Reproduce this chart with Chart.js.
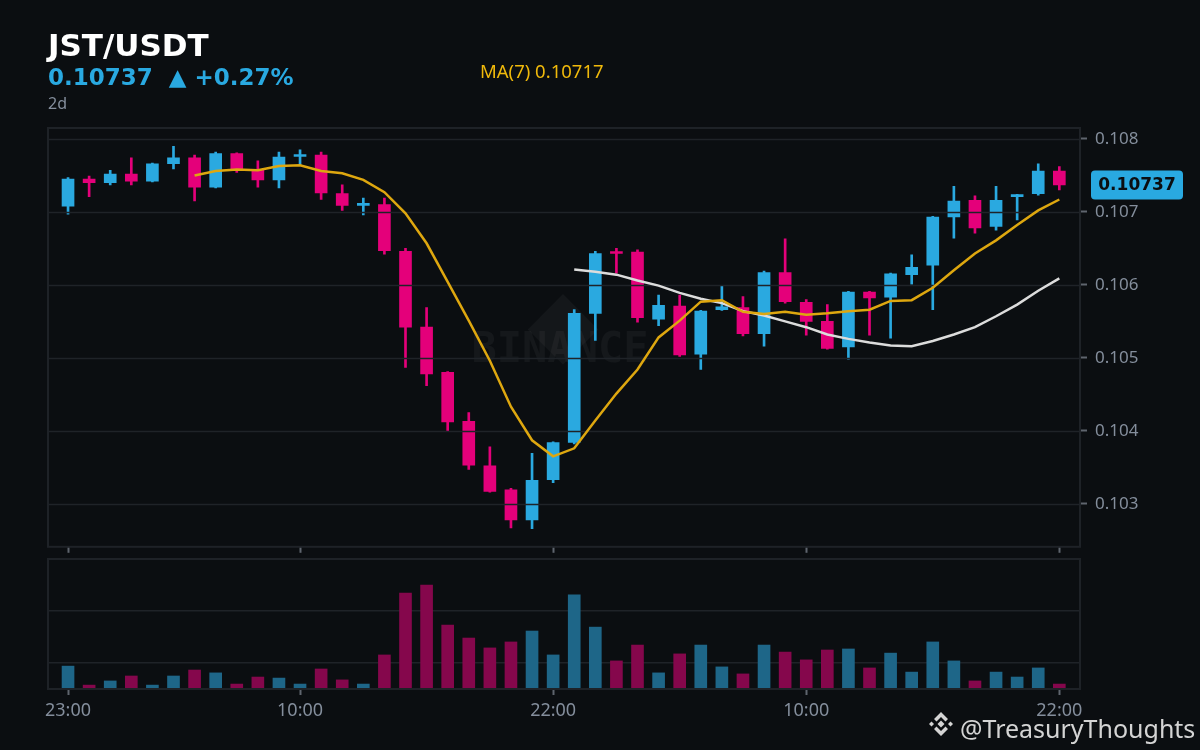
<!DOCTYPE html>
<html lang="en">
<head>
<meta charset="UTF-8">
<title>JST/USDT 2d</title>
<style>
  html, body { margin: 0; padding: 0; background: #0b0e11; }
  #wrap { position: relative; width: 1200px; height: 750px; overflow: hidden; background: #0b0e11; }
  canvas { position: absolute; left: 0; }
  #priceChart { top: 0; }
  #volChart { top: 550px; }
  .txt { position: absolute; white-space: nowrap; line-height: 1; }
  #pair { left: 48px; top: 27px; font: bold 31px "DejaVu Sans"; color: #ffffff; }
  #last { left: 48px; top: 64px; font: bold 23px "DejaVu Sans"; color: #29a9e1; }
  #ma { left: 480px; top: 58px; font: 18.5px "Noto Sans"; color: #f0b90b; }
  #tf { left: 48px; top: 92px; font: 16px "Noto Sans"; color: #848e9c; }
  #credit { left: 960px; top: 711px; font: 25px "Noto Sans"; color: #d4d4d4; }
  #logo { position: absolute; left: 927px; top: 710px; }
</style>
</head>
<body>
<div id="wrap">
  <canvas id="priceChart" width="1200" height="565"></canvas>
  <canvas id="volChart" width="1200" height="200"></canvas>
  <div class="txt" id="pair">JST/USDT</div>
  <div class="txt" id="last">0.10737&nbsp;&nbsp;▲ +0.27%</div>
  <div class="txt" id="ma">MA(7) 0.10717</div>
  <div class="txt" id="tf">2d</div>
  <svg id="logo" width="28" height="28" viewBox="0 0 28 28">
    <g fill="#d4d4d4">
      <polygon points="14,10.5 17.5,14 14,17.5 10.5,14"/>
      <polygon points="4.5,11.5 7,14 4.5,16.5 2,14"/>
      <polygon points="23.5,11.5 26,14 23.5,16.5 21,14"/>
      <polygon points="14,2 21,9 18.5,11.5 14,7 9.5,11.5 7,9"/>
      <polygon points="14,26 21,19 18.5,16.5 14,21 9.5,16.5 7,19"/>
    </g>
  </svg>
  <div class="txt" id="credit">@TreasuryThoughts</div>
</div>

<script src="https://cdn.jsdelivr.net/npm/chart.js"></script>
<script>
    // hourly candles, 23:00 -> 22:00 two days later
    const tickIdx = [0, 11, 23, 35, 47];
    const tickLabels = ['23:00', '10:00', '22:00', '10:00', '22:00'];
    const priceTicks = [0.103, 0.104, 0.105, 0.106, 0.107, 0.108];

    const opens = [
        0.10708, 0.10745, 0.10740, 0.10752, 0.10742, 0.10766, 0.10774, 0.10734, 0.10780, 0.10758,
        0.10744, 0.10776, 0.10778, 0.10725, 0.10709, 0.10710, 0.10646, 0.10542, 0.10480, 0.10413,
        0.10352, 0.10319, 0.10278, 0.10333, 0.10384, 0.10561, 0.10644, 0.10645, 0.10553, 0.10571,
        0.10505, 0.10566, 0.10569, 0.10533, 0.10617, 0.10576, 0.10550, 0.10515, 0.10590, 0.10583,
        0.10614, 0.10627, 0.10693, 0.10716, 0.10680, 0.10721, 0.10725, 0.10756
    ];
    const highs = [
        0.10747, 0.10749, 0.10757, 0.10774, 0.10767, 0.10790, 0.10778, 0.10782, 0.10781, 0.10770,
        0.10782, 0.10785, 0.10782, 0.10737, 0.10719, 0.10719, 0.10650, 0.10569, 0.10481, 0.10425,
        0.10378, 0.10321, 0.10369, 0.10385, 0.10566, 0.10646, 0.10650, 0.10648, 0.10586, 0.10586,
        0.10565, 0.10598, 0.10584, 0.10619, 0.10663, 0.10580, 0.10573, 0.10591, 0.10591, 0.10616,
        0.10641, 0.10694, 0.10735, 0.10722, 0.10735, 0.10724, 0.10766, 0.10762
    ];
    const lows = [
        0.10697, 0.10721, 0.10737, 0.10737, 0.10741, 0.10759, 0.10715, 0.10733, 0.10754, 0.10734,
        0.10733, 0.10764, 0.10717, 0.10702, 0.10696, 0.10642, 0.10487, 0.10462, 0.10399, 0.10347,
        0.10316, 0.10267, 0.10266, 0.10329, 0.10382, 0.10524, 0.10616, 0.10549, 0.10544, 0.10502,
        0.10484, 0.10565, 0.10530, 0.10516, 0.10575, 0.10531, 0.10512, 0.10498, 0.10531, 0.10527,
        0.10601, 0.10566, 0.10664, 0.10671, 0.10675, 0.10689, 0.10723, 0.10730
    ];
    const closes = [
        0.10745, 0.10740, 0.10752, 0.10742, 0.10766, 0.10774, 0.10734, 0.10780, 0.10758, 0.10744,
        0.10775, 0.10777, 0.10726, 0.10709, 0.10710, 0.10647, 0.10542, 0.10478, 0.10412, 0.10353,
        0.10317, 0.10278, 0.10332, 0.10384, 0.10561, 0.10643, 0.10643, 0.10555, 0.10572, 0.10504,
        0.10564, 0.10570, 0.10533, 0.10617, 0.10577, 0.10550, 0.10513, 0.10590, 0.10582, 0.10615,
        0.10624, 0.10693, 0.10715, 0.10678, 0.10716, 0.10722, 0.10756, 0.10737
    ];
    // volume in arbitrary units (gridlines at 1 and 3)
    const volumes = [
        0.88, 0.15, 0.31, 0.50, 0.15, 0.50, 0.73, 0.62, 0.19, 0.46,
        0.42, 0.19, 0.77, 0.35, 0.19, 1.31, 3.69, 4.00, 2.46, 1.96,
        1.58, 1.81, 2.23, 1.31, 3.62, 2.38, 1.08, 1.69, 0.62, 1.35,
        1.69, 0.85, 0.58, 1.69, 1.42, 1.12, 1.50, 1.54, 0.81, 1.38,
        0.65, 1.81, 1.08, 0.31, 0.65, 0.46, 0.81, 0.19
    ];
    const volGrid = [1, 3];

    const ma7Start = 6;
    const ma7 = [
        0.10750, 0.10756, 0.10758, 0.10757, 0.10763, 0.10764, 0.10756, 0.10753, 0.10744, 0.10727,
        0.10698, 0.10657, 0.10604, 0.10551, 0.10496, 0.10433, 0.10387, 0.10365, 0.10376, 0.10414,
        0.10451, 0.10484, 0.10528, 0.10551, 0.10577, 0.10579, 0.10563, 0.10560, 0.10563, 0.10559,
        0.10561, 0.10564, 0.10566, 0.10578, 0.10579, 0.10596, 0.10620, 0.10643, 0.10661, 0.10682,
        0.10702, 0.10717
    ];
    const ma25Start = 24;
    const ma25 = [
        0.10621, 0.10618, 0.10614, 0.10606, 0.10599, 0.10589, 0.10581, 0.10575, 0.10564, 0.10558,
        0.10550, 0.10542, 0.10532, 0.10526, 0.10521, 0.10517, 0.10516, 0.10523, 0.10532, 0.10542,
        0.10557, 0.10573, 0.10592, 0.10609
    ];

    const upCol = '#2aa9e0', downCol = '#e4007a';
    const upVol = '#1e6688', downVol = '#85074c';
    const gridCol = '#1f2328', borderCol = '#1e2227', tickMarkCol = '#5f656e', labelCol = '#848e9c';

    const isUp = closes.map((c, i) => c >= opens[i]);
    const xMin = -0.95, xMax = 47.98;

    Chart.defaults.font.family = '"Noto Sans", sans-serif';
    Chart.defaults.color = labelCol;

    function setXTicks(scale) {
        scale.ticks = tickIdx.map(v => ({ value: v }));
    }

    function drawPanelBorder(chart) {
        const { ctx, chartArea: a } = chart;
        ctx.save();
        ctx.strokeStyle = borderCol;
        ctx.lineWidth = 2;
        ctx.strokeRect(a.left, a.top, a.right - a.left, a.bottom - a.top);
        ctx.restore();
    }

    const pricePlugin = {
        id: 'pricePlugin',
        beforeDatasetsDraw(chart) {
            // faint watermark
            const { ctx, chartArea: a } = chart;
            const cx = (a.left + a.right) / 2, cy = (a.top + a.bottom) / 2;
            ctx.save();
            ctx.fillStyle = 'rgba(255,255,255,0.04)';
            ctx.translate(cx - 1, cy - 8);
            ctx.rotate(Math.PI / 4);
            ctx.fillRect(-25, -25, 50, 50);
            ctx.restore();
            ctx.save();
            ctx.fillStyle = 'rgba(255,255,255,0.045)';
            ctx.font = 'bold 42px "DejaVu Sans Mono"';
            ctx.textAlign = 'center';
            ctx.textBaseline = 'middle';
            ctx.fillText('BINANCE', cx - 4, cy + 14);
            ctx.restore();
        },
        beforeDatasetDraw(chart, args) {
            // grid above candles, below moving averages
            if (args.index !== 2) return;
            const { ctx, chartArea: a, scales: { y } } = chart;
            ctx.save();
            ctx.strokeStyle = gridCol;
            ctx.lineWidth = 1.5;
            y.ticks.forEach(t => {
                const py = Math.round(y.getPixelForValue(t.value)) + 0.5;
                ctx.beginPath();
                ctx.moveTo(a.left, py);
                ctx.lineTo(a.right, py);
                ctx.stroke();
            });
            ctx.restore();
        },
        afterDraw(chart) {
            drawPanelBorder(chart);
            const { ctx, chartArea: a, scales: { y } } = chart;
            const lastClose = closes[closes.length - 1];
            const py = y.getPixelForValue(lastClose);
            const bx = a.right + 11, bw = 92, bh = 29;
            ctx.save();
            ctx.fillStyle = '#29a9e1';
            ctx.beginPath();
            ctx.roundRect(bx, py - bh / 2, bw, bh, 4);
            ctx.fill();
            ctx.fillStyle = '#0b0e11';
            ctx.font = 'bold 17px "DejaVu Sans"';
            ctx.textAlign = 'center';
            ctx.textBaseline = 'middle';
            ctx.fillText(lastClose.toFixed(5), bx + bw / 2, py + 1);
            ctx.restore();
        }
    };

    const xTickGrid = { offset: false, drawOnChartArea: false, drawTicks: true, tickLength: 6, tickColor: tickMarkCol, tickWidth: 2 };

    const priceConfig = {
        type: 'bar',
        data: {
            datasets: [{
                label: 'wick',
                data: highs.map((h, i) => ({ x: i, y: [lows[i], h] })),
                backgroundColor: isUp.map(u => u ? upCol : downCol),
                barThickness: 2,
                grouped: false,
                order: 4
            }, {
                label: 'body',
                data: opens.map((o, i) => ({ x: i, y: [o, closes[i]] })),
                backgroundColor: isUp.map(u => u ? upCol : downCol),
                barThickness: 12,
                minBarLength: 2,
                grouped: false,
                order: 3
            }, {
                type: 'line',
                label: 'MA(25)',
                data: ma25.map((v, i) => ({ x: ma25Start + i, y: v })),
                borderColor: '#dcdcdc',
                borderWidth: 2.5,
                pointRadius: 0,
                tension: 0,
                order: 2
            }, {
                type: 'line',
                label: 'MA(7)',
                data: ma7.map((v, i) => ({ x: ma7Start + i, y: v })),
                borderColor: '#dea70f',
                borderWidth: 2.5,
                pointRadius: 0,
                tension: 0,
                order: 1
            }]
        },
        options: {
            responsive: false,
            animation: false,
            events: [],
            layout: { padding: { left: 48, top: 128, right: 0, bottom: 0 } },
            plugins: { legend: { display: false }, tooltip: { enabled: false } },
            scales: {
                x: {
                    type: 'linear',
                    min: xMin,
                    max: xMax,
                    offset: false,
                    bounds: 'data',
                    afterBuildTicks: setXTicks,
                    afterFit: s => { s.height = 9; },
                    grid: xTickGrid,
                    border: { display: false },
                    ticks: { display: false }
                },
                y: {
                    position: 'right',
                    min: 0.10241,
                    max: 0.10815,
                    bounds: 'data',
                    afterBuildTicks: s => { s.ticks = priceTicks.map(v => ({ value: v })); },
                    afterFit: s => { s.width = 120; },
                    grid: { drawOnChartArea: false, drawTicks: true, tickLength: 7, tickColor: tickMarkCol, tickWidth: 2 },
                    border: { display: false },
                    ticks: {
                        padding: 8,
                        color: labelCol,
                        font: { size: 17 },
                        callback: v => v.toFixed(3)
                    }
                }
            }
        },
        plugins: [pricePlugin]
    };

    const volPlugin = {
        id: 'volPlugin',
        afterDraw(chart) { drawPanelBorder(chart); }
    };

    const volConfig = {
        type: 'bar',
        data: {
            datasets: [{
                label: 'Volume',
                data: volumes.map((v, i) => ({ x: i, y: v })),
                backgroundColor: isUp.map(u => u ? upVol : downVol),
                barThickness: 12,
                grouped: false
            }]
        },
        options: {
            responsive: false,
            animation: false,
            events: [],
            layout: { padding: { left: 48, top: 9, right: 0, bottom: 0 } },
            plugins: { legend: { display: false }, tooltip: { enabled: false } },
            scales: {
                x: {
                    type: 'linear',
                    min: xMin,
                    max: xMax,
                    offset: false,
                    bounds: 'data',
                    afterBuildTicks: setXTicks,
                    afterFit: s => { s.height = 61; },
                    grid: xTickGrid,
                    border: { display: false },
                    ticks: {
                        autoSkip: false,
                        maxRotation: 0,
                        padding: 5,
                        color: labelCol,
                        font: { size: 18 },
                        callback: v => tickLabels[tickIdx.indexOf(v)]
                    }
                },
                y: {
                    position: 'right',
                    min: 0,
                    max: 5,
                    bounds: 'data',
                    afterBuildTicks: s => { s.ticks = volGrid.map(v => ({ value: v })); },
                    afterFit: s => { s.width = 120; },
                    grid: { color: gridCol, lineWidth: 1.5, drawTicks: false },
                    border: { display: false },
                    ticks: { display: false }
                }
            }
        },
        plugins: [volPlugin]
    };

    const priceChart = new Chart(document.getElementById('priceChart').getContext('2d'), priceConfig);
    const volChart = new Chart(document.getElementById('volChart').getContext('2d'), volConfig);
</script>
</body>
</html>
